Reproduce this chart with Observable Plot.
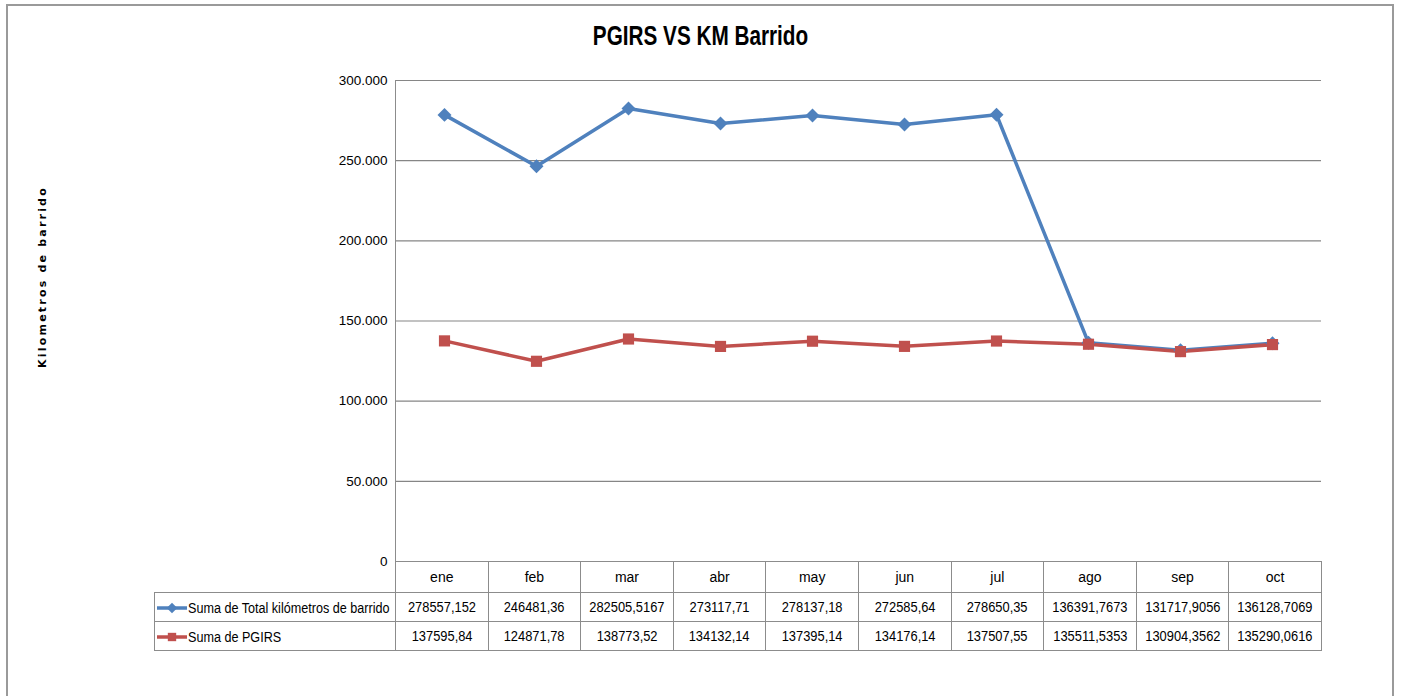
<!DOCTYPE html>
<html>
<head>
<meta charset="utf-8">
<script src="https://cdn.jsdelivr.net/npm/d3@7"></script>
<script src="https://cdn.jsdelivr.net/npm/@observablehq/plot@0.6"></script>
<style>
  html, body { margin: 0; padding: 0; background: #fff; }
  #wrap { position: relative; width: 1401px; height: 696px; overflow: hidden; background: #fff; }
  #frame { position: absolute; left: 6px; top: 4px; width: 1388px; height: 720px; border: 2px solid #9a9a9a; box-sizing: border-box; }
  #title { position: absolute; left: 0; width: 1401px; top: 19px; text-align: center; font-family: "Liberation Sans", Arial, sans-serif; font-weight: bold; font-size: 28px; color: #000; line-height: 34px; }
  #title span { display: inline-block; transform: scaleX(0.74); transform-origin: center; }
  #ylabel { position: absolute; left: 42px; top: 277px; transform: translate(-50%, -50%) rotate(-90deg); white-space: nowrap; font-family: "DejaVu Sans", sans-serif; font-weight: bold; font-size: 11px; letter-spacing: 2.2px; color: #000; }
  #chart { position: absolute; left: 0; top: 0; }
  #axisline { position: absolute; left: 395px; top: 80px; width: 1px; height: 481px; background: #8c8c8c; }
  #tbl { position: absolute; left: 154px; top: 561px; border-collapse: collapse; font-family: "Liberation Sans", Arial, sans-serif; font-size: 14px; color: #000; table-layout: fixed; }
  #tbl td { border: 1px solid #8c8c8c; padding: 0; text-align: center; white-space: nowrap; overflow: hidden; }
  #tbl td.blank { border-top: none; border-left: none; border-bottom: 1px solid #8c8c8c; }
  #tbl tr.head td { height: 30px; }
  #tbl tr.row td { height: 28px; }
  #tbl td span.n { display: inline-block; transform: scaleX(0.92); }
  #tbl td.leg { text-align: left; }
  #tbl td.leg svg { vertical-align: middle; margin-left: 1px; }
  #tbl td.leg span { display: inline-block; vertical-align: middle; transform: scaleX(0.9); transform-origin: left center; }
</style>
</head>
<body>
<div id="wrap">
  <div id="frame"></div>
  <div id="title"><span></span></div>
  <div id="ylabel"></div>
  <div id="chart"></div>
  <div id="axisline"></div>
  <table id="tbl"></table>
</div>
<script>
const titleText = "PGIRS VS KM Barrido";
const yLabelText = "Kilometros de barrido";
const months = ["ene", "feb", "mar", "abr", "may", "jun", "jul", "ago", "sep", "oct"];
const seriesNames = ["Suma de Total kilómetros de barrido", "Suma de PGIRS"];
const totalKm = [278557.152, 246481.36, 282505.5167, 273117.71, 278137.18, 272585.64, 278650.35, 136391.7673, 131717.9056, 136128.7069];
const pgirs = [137595.84, 124871.78, 138773.52, 134132.14, 137395.14, 134176.14, 137507.55, 135511.5353, 130904.3562, 135290.0616];
const yTicks = [0, 50000, 100000, 150000, 200000, 250000, 300000];
const colors = ["#4F81BD", "#C0504D"];
const symbols = ["diamond2", "square"];

document.querySelector("#title span").textContent = titleText;
document.getElementById("ylabel").textContent = yLabelText;

const fmtTick = d => d === 0 ? "0" : d3.format(",.0f")(d).replace(/,/g, ".");
const fmtCell = v => String(v).replace(".", ",");

const data = [];
[totalKm, pgirs].forEach((arr, s) => arr.forEach((v, i) => data.push({ month: months[i], value: v, series: seriesNames[s] })));

const chart = Plot.plot({
  width: 1401,
  height: 575,
  marginLeft: 395,
  marginRight: 80,
  marginTop: 80,
  marginBottom: 14,
  style: { fontFamily: "'Liberation Sans', Arial, sans-serif", fontSize: "13.5px", background: "transparent", color: "#000", overflow: "visible" },
  x: { type: "point", domain: months, padding: 0.5, axis: null },
  y: { domain: [0, 300000], ticks: yTicks, tickFormat: fmtTick, tickSize: 0, tickPadding: 8, label: null },
  color: { domain: seriesNames, range: colors },
  symbol: { domain: seriesNames, range: symbols },
  marks: [
    Plot.ruleY(yTicks, { stroke: "#868686", strokeWidth: 1.2 }),
    Plot.line(data, { x: "month", y: "value", z: "series", stroke: "series", strokeWidth: 3.5 }),
    Plot.dot(data, { x: "month", y: "value", fill: "series", symbol: "series", r: 6.3, stroke: "none" })
  ]
});
document.getElementById("chart").appendChild(chart);

// data table
const tbl = document.getElementById("tbl");
const colW = [241].concat(months.map(() => 92.6));
const cg = document.createElement("colgroup");
colW.forEach(w => { const c = document.createElement("col"); c.style.width = w + "px"; cg.appendChild(c); });
tbl.appendChild(cg);
tbl.style.width = d3.sum(colW) + "px";
const head = document.createElement("tr"); head.className = "head";
const b = document.createElement("td"); b.className = "blank"; head.appendChild(b);
months.forEach(m => { const td = document.createElement("td"); td.textContent = m; head.appendChild(td); });
tbl.appendChild(head);
function legendIcon(color, sym) {
  const ns = "http://www.w3.org/2000/svg";
  const svg = document.createElementNS(ns, "svg");
  svg.setAttribute("width", 32); svg.setAttribute("height", 12);
  const ln = document.createElementNS(ns, "line");
  ln.setAttribute("x1", 1); ln.setAttribute("x2", 31); ln.setAttribute("y1", 6); ln.setAttribute("y2", 6);
  ln.setAttribute("stroke", color); ln.setAttribute("stroke-width", 3.5);
  svg.appendChild(ln);
  const p = document.createElementNS(ns, "path");
  const shape = sym === "diamond2" ? d3.symbolDiamond2 : d3.symbolSquare;
  p.setAttribute("d", d3.symbol(shape, 70)());
  p.setAttribute("transform", "translate(16,6)");
  p.setAttribute("fill", color);
  svg.appendChild(p);
  return svg;
}
[totalKm, pgirs].forEach((arr, s) => {
  const tr = document.createElement("tr"); tr.className = "row";
  const td0 = document.createElement("td"); td0.className = "leg";
  td0.appendChild(legendIcon(colors[s], symbols[s]));
  const sp = document.createElement("span"); sp.textContent = seriesNames[s];
  td0.appendChild(sp);
  tr.appendChild(td0);
  arr.forEach(v => {
    const td = document.createElement("td");
    const n = document.createElement("span"); n.className = "n"; n.textContent = fmtCell(v);
    td.appendChild(n); tr.appendChild(td);
  });
  tbl.appendChild(tr);
});
</script>
</body>
</html>
